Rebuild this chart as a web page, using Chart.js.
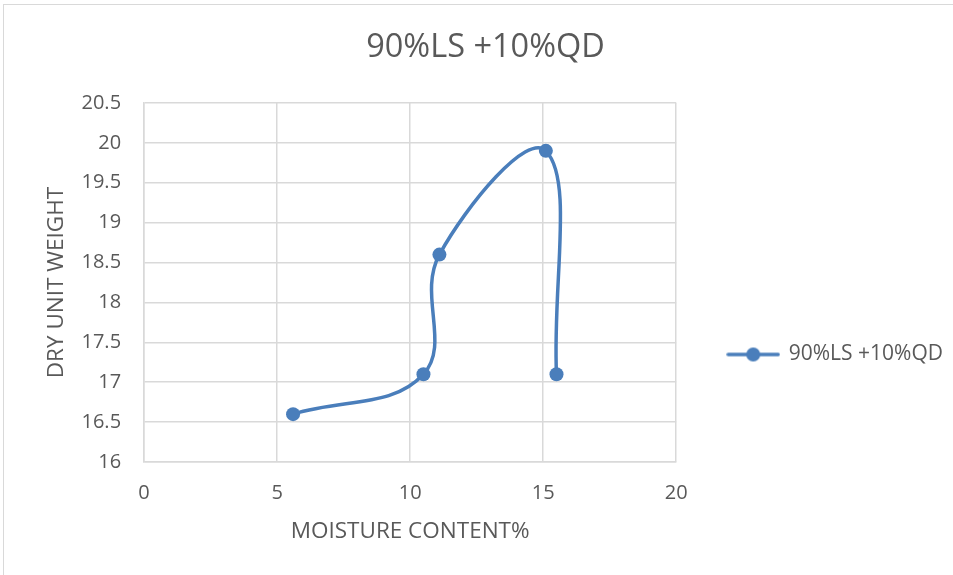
<!DOCTYPE html>
<html lang="en">
<head>
    <meta charset="UTF-8">
    <title>90%LS +10%QD</title>
    <script src="https://cdn.jsdelivr.net/npm/chart.js@4.4.0/dist/chart.umd.min.js"></script>
    <style>
        body { margin: 0; background: #fff; }
        #frame { position: absolute; left: 3px; top: 4px; width: 1000px; height: 600px; border: 1px solid #d9d9d9; }
        #myChart { position: absolute; left: 0; top: 0; }
    </style>
</head>
<body>
    <div id="frame"></div>
    <canvas id="myChart" width="953" height="575"></canvas>
    <script>
        // values
        const seriesName    = '90%LS +10%QD';
        const moisture      = [5.6, 10.5, 11.1, 15.1, 15.5];
        const dryUnitWeight = [16.6, 17.1, 18.6, 19.9, 17.1];
        const xTicks        = [0, 5, 10, 15, 20];
        const yTicks        = [16, 16.5, 17, 17.5, 18, 18.5, 19, 19.5, 20, 20.5];

        const blue  = '#4a7ebb';
        const grey  = '#595959';
        const gridC = '#d9d9d9';
        const font  = "'Open Sans', 'DejaVu Sans', sans-serif";

        // legend marker: line with a dot in the middle
        const icon = document.createElement('canvas');
        icon.width = 54; icon.height = 16;
        const ic = icon.getContext('2d');
        ic.strokeStyle = blue; ic.lineWidth = 3.5; ic.lineCap = 'round';
        ic.beginPath(); ic.moveTo(2, 8); ic.lineTo(52, 8); ic.stroke();
        ic.fillStyle = blue;
        ic.beginPath(); ic.arc(27, 8, 7, 0, Math.PI * 2); ic.fill();

        const ctx = document.getElementById('myChart').getContext('2d');
        const myChart = new Chart(ctx, {
            type: 'line',
            data: {
                datasets: [{
                    label: seriesName,
                    data: moisture.map((x, i) => ({ x: x, y: dryUnitWeight[i] })),
                    borderColor: blue,
                    backgroundColor: blue,
                    borderWidth: 3.5,
                    pointRadius: 7,
                    pointBorderWidth: 0,
                    pointBackgroundColor: blue,
                    tension: 0.4,
                    fill: false
                }]
            },
            options: {
                responsive: false,
                animation: false,
                layout: { padding: { top: 10, left: 18, right: 0, bottom: 0 } },
                plugins: {
                    title: {
                        display: true,
                        text: seriesName,
                        color: grey,
                        font: { family: font, size: 32.5, weight: 'normal' },
                        padding: { top: 18.3, bottom: 35.7 }
                    },
                    legend: {
                        position: 'right',
                        align: 'start',
                        fullSize: false,
                        maxWidth: 400,
                        title: { display: true, text: ' ', font: { size: 10 }, padding: { top: 177, bottom: 0 } },
                        labels: {
                            usePointStyle: true,
                            pointStyleWidth: 50,
                            padding: 52,
                            color: grey,
                            font: { family: font, size: 21 },
                            generateLabels: chart => Chart.defaults.plugins.legend.labels.generateLabels(chart)
                                .map(l => Object.assign(l, { pointStyle: icon }))
                        }
                    },
                    tooltip: { enabled: false }
                },
                scales: {
                    x: {
                        type: 'linear',
                        min: xTicks[0],
                        max: xTicks[xTicks.length - 1],
                        afterBuildTicks: axis => { axis.ticks = xTicks.map(v => ({ value: v })); },
                        grid: { color: gridC, lineWidth: 1.5, drawTicks: false },
                        border: { color: gridC, width: 1.5 },
                        ticks: { color: grey, padding: 19, font: { family: font, size: 20 }, callback: v => String(v) },
                        title: {
                            display: true,
                            text: 'MOISTURE CONTENT%',
                            color: grey,
                            font: { family: font, size: 22.5 },
                            padding: { top: -5.5, bottom: 29.5 }
                        }
                    },
                    y: {
                        type: 'linear',
                        min: yTicks[0],
                        max: yTicks[yTicks.length - 1],
                        afterBuildTicks: axis => { axis.ticks = yTicks.map(v => ({ value: v })); },
                        grid: { color: gridC, lineWidth: 1.5, drawTicks: false },
                        border: { color: gridC, width: 1.5 },
                        ticks: { color: grey, padding: 23, font: { family: font, size: 20 }, callback: v => String(v) },
                        title: {
                            display: true,
                            text: 'DRY UNIT WEIGHT',
                            color: grey,
                            font: { family: font, size: 22.5 },
                            padding: { top: 25.5, bottom: -12 }
                        }
                    }
                }
            }
        });
    </script>
</body>
</html>
